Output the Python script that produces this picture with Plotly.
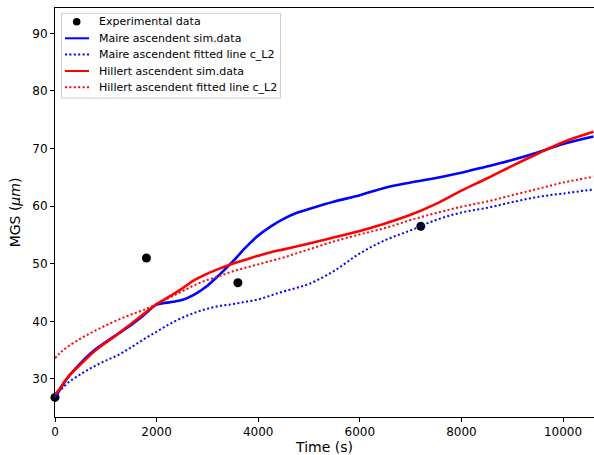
import plotly.graph_objects as go

# ---- data ----
exp_time = [0, 1800, 3600, 7200]
exp_mgs = [26.8, 51.0, 46.7, 56.5]

time = [0, 100, 250, 500, 750, 1000, 1250, 1500, 1750, 2000, 2250, 2500, 2750,
        3000, 3250, 3500, 3750, 4000, 4250, 4500, 4750, 5000, 5500, 6000, 6500,
        7000, 7500, 8000, 8500, 9000, 9500, 10000, 10600]

maire_sim = [26.8, 28.2, 30.2, 32.7, 34.8, 36.4, 37.9, 39.4, 41.1, 42.9, 43.3, 43.7, 44.7,
             46.2, 48.2, 50.4, 52.8, 54.9, 56.5, 57.8, 58.8, 59.5, 60.8, 61.9, 63.2,
             64.1, 64.9, 65.8, 66.9, 68.0, 69.3, 70.8, 72.1]

maire_fit = [27.2, 28.0, 29.3, 30.8, 32.1, 33.2, 34.2, 35.5, 36.9, 38.2, 39.5, 40.6, 41.5,
             42.2, 42.7, 43.0, 43.4, 43.8, 44.5, 45.2, 45.8, 46.5, 48.8, 51.8, 54.1,
             55.8, 57.6, 58.9, 59.7, 60.7, 61.6, 62.2, 62.9]

hillert_sim = [27.3, 28.4, 30.3, 32.5, 34.6, 36.3, 37.9, 39.6, 41.3, 43.0, 44.3, 45.7, 47.2,
               48.3, 49.2, 50.0, 50.7, 51.4, 52.0, 52.5, 53.0, 53.5, 54.6, 55.7, 57.0,
               58.5, 60.4, 62.7, 64.8, 67.0, 69.1, 71.1, 72.9]

hillert_fit = [33.6, 34.5, 35.6, 37.0, 38.2, 39.3, 40.3, 41.2, 42.0, 43.0, 44.1, 45.2, 46.3,
               47.2, 47.9, 48.7, 49.3, 49.9, 50.5, 51.1, 51.8, 52.5, 53.9, 55.1, 56.2,
               57.6, 58.8, 59.9, 60.8, 61.9, 63.0, 64.1, 65.1]

series_names = ["Experimental data",
                "Maire ascendent sim.data",
                "Maire ascendent fitted line c_L2",
                "Hillert ascendent sim.data",
                "Hillert ascendent fitted line c_L2"]

x_ticks = [0, 2000, 4000, 6000, 8000, 10000]
x_ticklabels = ["0", "2000", "4000", "6000", "8000", "10000"]
y_ticks = [30, 40, 50, 60, 70, 80, 90]

x_range = [0, 10610]
y_range = [23.4, 94.4]

FONT = "DejaVu Sans"
DOT = "2px,2.4px"

# figure geometry (page body margin is removed in post_script)
W, H = 594, 455
ML, MR, MT, MB = 55, 0, 8, 38
PW, PH = W - ML - MR, H - MT - MB

styles = [None,
          dict(color="blue", width=2.6),
          dict(color="blue", width=2, dash=DOT),
          dict(color="red", width=2.6),
          dict(color="red", width=2, dash=DOT)]

fig = go.Figure()
fig.add_trace(go.Scatter(x=exp_time, y=exp_mgs, mode="markers", name=series_names[0],
                         marker=dict(color="black", size=9), cliponaxis=False))
for name, ys, st in zip(series_names[1:], [maire_sim, maire_fit, hillert_sim, hillert_fit], styles[1:]):
    fig.add_trace(go.Scatter(x=time, y=ys, mode="lines", name=name,
                             line=dict(shape="spline", **st)))


def px_x(p):  # window pixel -> paper x
    return (p - ML) / PW


def px_y(p):  # window pixel -> paper y
    return 1 - (p - MT) / PH


# ---- legend drawn as shapes + text (matplotlib-like compact layout) ----
shapes = [dict(type="rect", xref="paper", yref="paper",
               x0=px_x(61.5), x1=px_x(280.5), y0=px_y(98), y1=px_y(13.3),
               line=dict(color="#cccccc", width=1), fillcolor="rgba(255,255,255,0.8)",
               layer="above")]
annotations = []
row_y = [21.7, 38.3, 54.6, 71.0, 87.2]
for i, (name, yy) in enumerate(zip(series_names, row_y)):
    if i == 0:
        r = 3.8
        shapes.append(dict(type="circle", xref="paper", yref="paper",
                           x0=px_x(76.7 - r), x1=px_x(76.7 + r),
                           y0=px_y(yy + r), y1=px_y(yy - r),
                           fillcolor="black", line=dict(color="black", width=0), layer="above"))
    else:
        st = dict(styles[i])
        st["width"] = 2
        shapes.append(dict(type="line", xref="paper", yref="paper",
                           x0=px_x(65), x1=px_x(89), y0=px_y(yy), y1=px_y(yy),
                           line=st, layer="above"))
    annotations.append(dict(xref="paper", yref="paper", x=px_x(96.5), y=px_y(yy),
                            xanchor="left", yanchor="middle", showarrow=False,
                            text=name, font=dict(family=FONT, size=11, color="black")))

fig.update_layout(
    width=W, height=H,
    margin=dict(l=ML, r=MR, t=MT, b=MB),
    paper_bgcolor="white", plot_bgcolor="white",
    font=dict(family=FONT, size=12, color="black"),
    showlegend=False,
    shapes=shapes, annotations=annotations,
)
fig.update_xaxes(range=x_range, showgrid=False, zeroline=False,
                 showline=True, linecolor="black", linewidth=1, mirror=True,
                 ticks="outside", ticklen=4, tickcolor="black",
                 tickvals=x_ticks, ticktext=x_ticklabels,
                 title=dict(text="Time (s)", standoff=4))
fig.update_yaxes(range=y_range, showgrid=False, zeroline=False,
                 showline=True, linecolor="black", linewidth=1, mirror=False,
                 ticks="outside", ticklen=4, tickcolor="black",
                 tickvals=y_ticks,
                 title=dict(text="MGS (<i>μm</i>)", standoff=8))

fig.write_html("out.html",
               config={"displayModeBar": False},
               post_script="document.body.style.margin='0';document.body.style.overflow='hidden';")
